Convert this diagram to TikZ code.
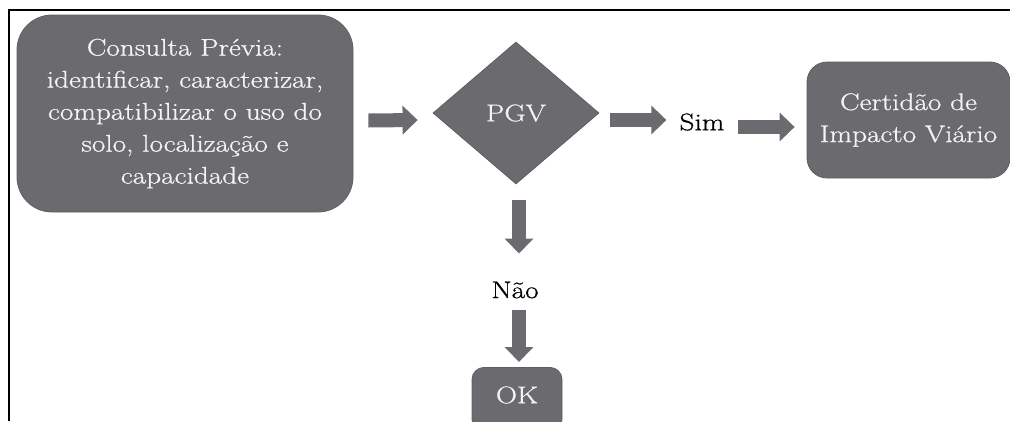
\documentclass[tikz,border=0pt]{standalone}
\usepackage{fontspec}
\setmainfont{Latin Modern Roman}[FakeStretch=1.22, FakeBold=0.8]
\usetikzlibrary{shapes.geometric,arrows.meta}
\definecolor{boxgray}{RGB}{107,106,111}
\definecolor{edgegray}{RGB}{95,94,99}
\definecolor{txtwhite}{RGB}{244,244,244}
\begin{document}
\begin{tikzpicture}[x=1pt,y=-1pt,
  box/.style={rounded corners=#1, fill=boxgray, draw=edgegray, line width=0.8pt,
    text=txtwhite, align=center, inner sep=0pt,
    font=\fontsize{24}{32}\selectfont},
  dec/.style={diamond, fill=boxgray, draw=edgegray, line width=0.8pt, text=txtwhite,
    inner sep=0pt, font=\fontsize{24}{32}\selectfont},
  lbl/.style={text=black, inner sep=0pt, font=\fontsize{24}{32}\selectfont},
  barrow/.style={draw=boxgray, line width=14pt,
    -{Triangle[length=15pt,width=28pt]}},
]
\useasboundingbox (0,0) rectangle (1010,421);
\draw[line width=2pt] (9,421) -- (9,10) -- (1010,10);

\node[box=35pt, minimum width=336pt, minimum height=197pt] (cons) at (185,113.5)
  {Consulta Prévia:\\identificar, caracterizar,\\compatibilizar o uso do\\solo, localização e\\capacidade};
\node[dec, minimum width=166pt, minimum height=142pt] (pgv) at (516,113) {PGV};
\node[lbl] (sim) at (702,122) {Sim};
\node[box=20pt, minimum width=203pt, minimum height=116pt] (cert) at (908.5,120)
  {Certidão de\\Impacto Viário};
\node[lbl] (nao) at (515,290) {Não};
\node[box=12pt, minimum width=90pt, minimum height=64pt, anchor=north] (ok) at (517,367) {};
\node[text=txtwhite, inner sep=0pt, font=\fontsize{24}{32}\selectfont] (oktxt) at (517,395) {OK};

\draw[barrow] ([shift={(15,7)}]cons.east) -- ([shift={(-15,7)}]pgv.west);
\draw[barrow] ([shift={(11,7)}]pgv.east) -- ([shift={(-13,-2)}]sim.west);
\draw[barrow] ([shift={(13,5)}]sim.east) -- ([shift={(-12,7)}]cert.west);
\draw[barrow] ([shift={(3,16)}]pgv.south) -- ([shift={(4,-28)}]nao.north);
\draw[barrow] ([shift={(4,12)}]nao.south) -- ([shift={(2,-5)}]ok.north);
\end{tikzpicture}
\end{document}
